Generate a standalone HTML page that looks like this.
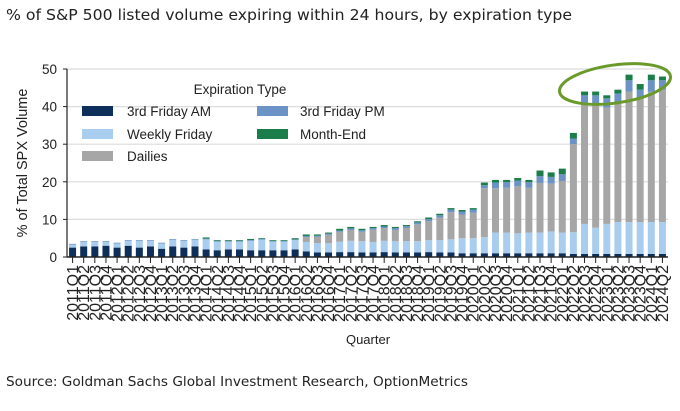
<!DOCTYPE html>
<html><head><meta charset="utf-8"><style>
body{margin:0;background:#fff;width:680px;height:406px;overflow:hidden;font-family:"Liberation Sans",sans-serif}
</style></head><body>
<svg id="c" width="680" height="406" xmlns="http://www.w3.org/2000/svg">
<text x="6" y="20" font-size="15" fill="#222" font-family="DejaVu Sans, sans-serif" textLength="566" lengthAdjust="spacingAndGlyphs">% of S&amp;P 500 listed volume expiring within 24 hours, by expiration type</text>
<text transform="translate(27,163) rotate(-90)" text-anchor="middle" font-size="14.5" fill="#222">% of Total SPX Volume</text>
<text x="368" y="344" text-anchor="middle" font-size="13" fill="#222">Quarter</text>
<text x="6" y="386" font-size="13.5" fill="#222" font-family="DejaVu Sans, sans-serif" textLength="462" lengthAdjust="spacingAndGlyphs">Source: Goldman Sachs Global Investment Research, OptionMetrics</text>
<g id="grid"></g><g id="bars"></g><g id="axes"></g>
<g font-size="13.5" fill="#222">
<text x="240" y="94" text-anchor="middle">Expiration Type</text>
<rect x="82" y="106" width="31" height="10" fill="#0d2f5a"/><text x="127" y="116">3rd Friday AM</text>
<rect x="257" y="106" width="31" height="10" fill="#6b93c6"/><text x="300" y="116">3rd Friday PM</text>
<rect x="82" y="129" width="31" height="10" fill="#a9cdee"/><text x="127" y="139">Weekly Friday</text>
<rect x="257" y="129" width="31" height="10" fill="#1a7d4a"/><text x="300" y="139">Month-End</text>
<rect x="82" y="151" width="31" height="10" fill="#a6a6a6"/><text x="127" y="161">Dailies</text>
</g>
<ellipse cx="615" cy="84" rx="56" ry="19" transform="rotate(-8 615 84)" fill="none" stroke="#6a9a2a" stroke-width="3"/>
</svg>
<script>
const categories=[];for(let y=2011;y<=2024;y++){for(let q=1;q<=4;q++){if(y===2024&&q>2)break;categories.push(y+'Q'+q);}}
const am=[2.5,2.8,2.8,3.0,2.5,3.0,2.5,2.8,2.2,2.8,2.5,2.8,2.0,1.8,2.0,2.0,1.8,1.8,1.8,1.8,2.0,1.5,1.2,1.2,1.3,1.3,1.2,1.2,1.3,1.2,1.2,1.2,1.3,1.2,1.2,1.0,1.0,1.0,1.0,1.0,1.0,1.0,1.0,1.0,1.0,0.8,0.8,0.8,0.8,0.8,0.8,0.8,0.8,0.8];
const weekly=[0.8,1.2,1.2,1.0,1.1,1.3,1.8,1.5,1.4,1.8,1.8,1.8,2.7,2.3,2.1,2.1,2.5,2.8,2.3,2.3,2.5,2.5,2.5,2.5,2.8,3.0,3.0,2.8,3.0,3.0,3.0,3.0,3.2,3.3,3.5,4.0,4.0,4.3,5.5,5.5,5.3,5.5,5.5,5.8,5.5,5.8,8.0,7.0,8.0,8.5,8.5,8.5,8.5,8.5];
const dailies=[0,0,0,0,0,0,0,0,0,0,0,0,0,0,0,0,0,0,0,0,0,1.3,1.7,2.2,2.6,2.9,2.5,3.3,3.4,3.0,3.5,4.5,5.0,6.0,7.2,6.3,6.8,13.0,11.8,11.9,12.5,11.9,13.2,12.7,13.7,23.4,31.7,32.7,30.9,31.7,34.7,32.7,34.7,35.2];
const pm=[0.2,0.2,0.2,0.2,0.2,0.2,0.2,0.2,0.2,0.2,0.2,0.2,0.2,0.2,0.2,0.2,0.2,0.2,0.2,0.2,0.2,0.3,0.3,0.3,0.3,0.4,0.4,0.4,0.4,0.5,0.5,0.5,0.6,0.6,0.7,0.8,0.8,0.8,1.5,1.5,1.5,1.5,1.8,1.8,1.8,1.5,2.5,2.5,2.5,2.5,3.0,2.5,3.0,2.5];
const monthEnd=[0,0,0,0,0,0,0,0,0,0,0,0,0.3,0.2,0.2,0.2,0.3,0.2,0.2,0.2,0.3,0.4,0.3,0.3,0.5,0.4,0.4,0.3,0.4,0.3,0.3,0.3,0.4,0.4,0.4,0.4,0.4,0.7,0.7,0.6,0.7,0.6,1.5,1.2,1.5,1.5,1.0,1.0,0.8,1.0,1.5,1.5,1.5,1.0];
const yTicks=[0,10,20,30,40,50];
const series=[[am,'#0d2f5a','am'],[weekly,'#a9cdee','weekly'],[dailies,'#a6a6a6','dailies'],[pm,'#6b93c6','pm'],[monthEnd,'#1a7d4a','month-end']];
const NS='http://www.w3.org/2000/svg';
const x0=67,x1=668,y0=257,yTop=69;
const step=(x1-x0)/categories.length;
const X=i=>x0+step*(i+0.5);
const Y=v=>y0-(v/50)*(y0-yTop);
function mk(t,a,p){const e=document.createElementNS(NS,t);for(const k in a)e.setAttribute(k,a[k]);p.appendChild(e);return e;}
const grid=document.getElementById('grid'),bars=document.getElementById('bars'),axes=document.getElementById('axes');
yTicks.forEach(v=>{
 if(v>0){const g=mk('line',{x1:x0,x2:x1,y1:Y(v),y2:Y(v),stroke:'#dcdcdc','stroke-width':1.2},grid);
 
 }
 const t=mk('text',{x:x0-10,y:Y(v)+5,'text-anchor':'end','font-size':13.5,fill:'#222'},axes);t.textContent=v;
 
 
 mk('line',{x1:x0-4,x2:x0,y1:Y(v),y2:Y(v),stroke:'#222'},axes);
});
categories.forEach((c,i)=>{
 let base=0;
 series.forEach(([arr,col,nm])=>{
  const v=arr[i];if(v<=0)return;
  const r=mk('rect',{x:X(i)-3.5,y:Y(base+v),width:7,height:Y(base)-Y(base+v),fill:col},bars);
  
  
  base+=v;
 });
 mk('line',{x1:X(i),x2:X(i),y1:y0,y2:y0+6,stroke:'#222'},axes);
 const t=mk('text',{transform:`translate(${X(i)+5.5},265) rotate(-90)`,'text-anchor':'end','font-size':16,fill:'#222'},axes);
 t.textContent=c;
 
 
});
mk('line',{x1:x0,x2:x0,y1:yTop,y2:y0,stroke:'#222','stroke-width':1.2},axes);
const xa=mk('line',{x1:x0,x2:x1,y1:y0,y2:y0,stroke:'#222','stroke-width':1.5},axes);


</script>
</body></html>
